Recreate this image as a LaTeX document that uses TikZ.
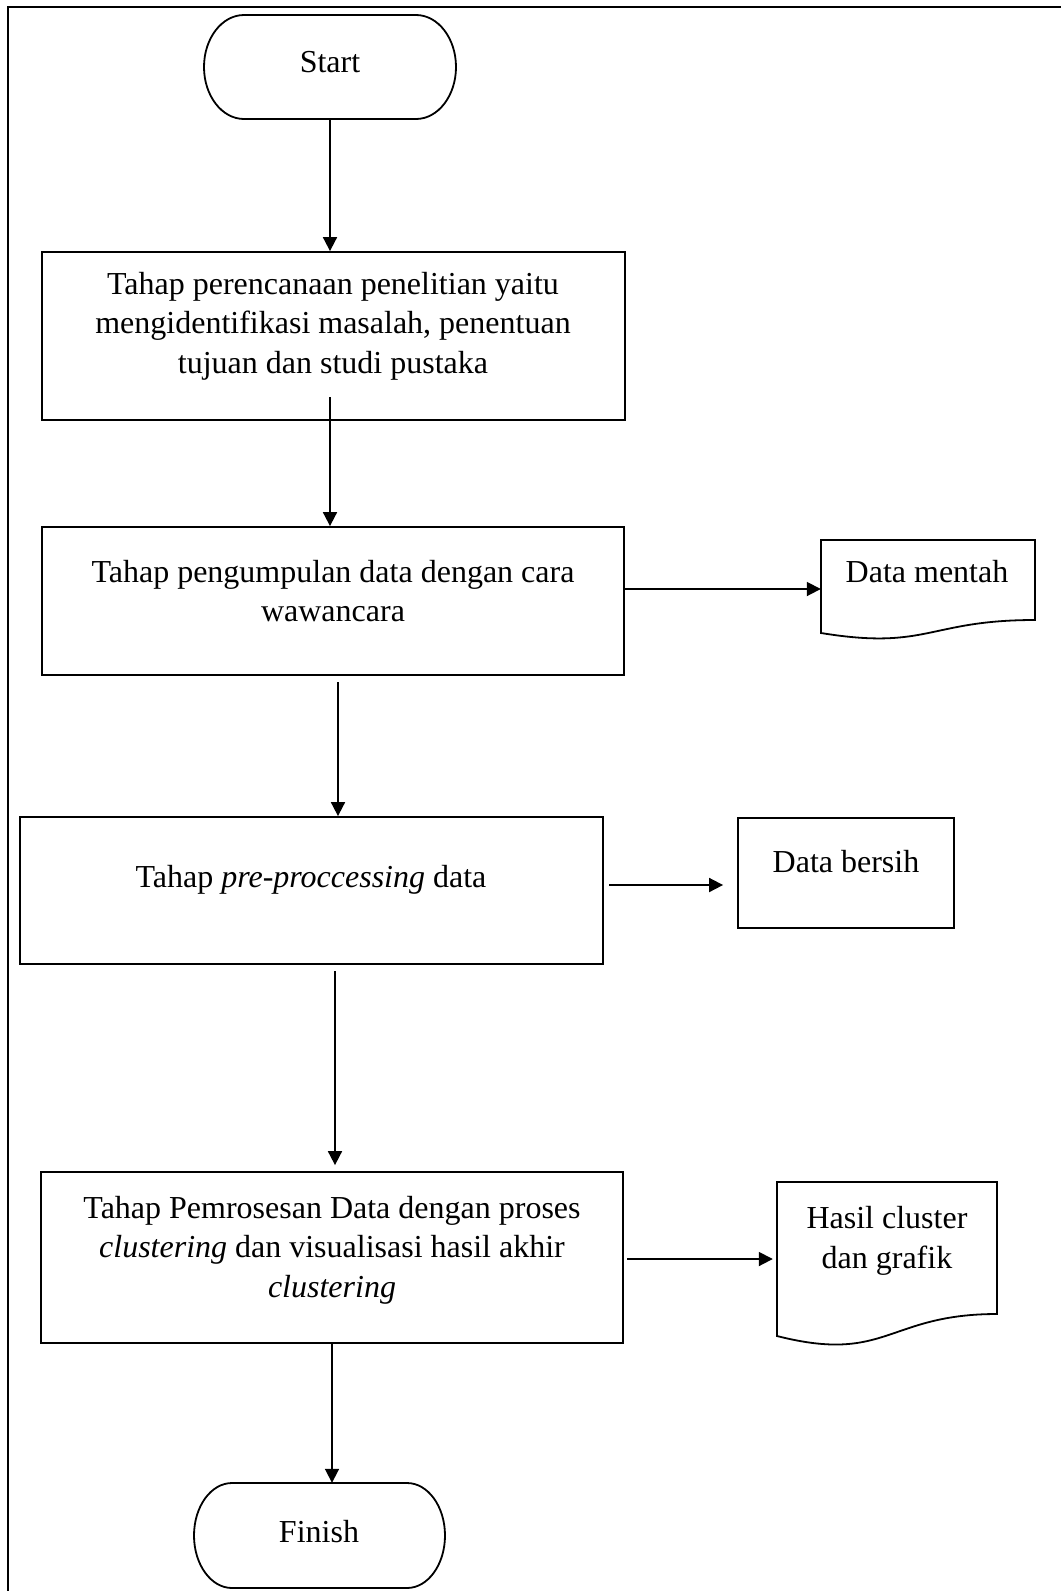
\documentclass[tikz,border=0pt]{standalone}
\usepackage{fontspec}
\setmainfont{Liberation Serif}
\usetikzlibrary{arrows.meta,calc}
\begin{document}
\begin{tikzpicture}[x=1pt,y=-1pt,
  box/.style={draw, line width=1.8pt, inner sep=0pt},
  ghost/.style={inner sep=0pt},
  txt/.style={align=center, inner sep=0pt, font=\fontsize{32}{39.5}\selectfont},
  shp/.style={line width=1.8pt},
  arr/.style={line width=1.8pt, -{Triangle[length=14pt,width=14pt]}}]
\useasboundingbox (0,0) rectangle (1061,1591);
% page frame (top and left only)
\draw[line width=1.5pt] (8,1591) -- (8,7) -- (1061,7);

% Start terminator
\node[ghost, minimum width=252pt, minimum height=104pt] (start) at (330,67) {};
\draw[shp] (244,15) -- (416,15) .. controls (438.1,15) and (456,38.3) .. (456,67)
  .. controls (456,95.7) and (438.1,119) .. (416,119) -- (244,119)
  .. controls (221.9,119) and (204,95.7) .. (204,67)
  .. controls (204,38.3) and (221.9,15) .. (244,15) -- cycle;
\node[txt] (tstart) at (330,62) {Start};

% process boxes
\node[box, minimum width=583pt, minimum height=168pt] (b1) at (333.5,336) {};
\node[txt] (t1) at (333,326) {Tahap perencanaan penelitian yaitu\\mengidentifikasi masalah, penentuan\\tujuan dan studi pustaka};

\node[box, minimum width=582pt, minimum height=148pt] (b2) at (333,601) {};
\node[txt] (t2) at (333,591) {Tahap pengumpulan data dengan cara\\wawancara};

\node[box, minimum width=583pt, minimum height=147pt] (b3) at (311.5,890.5) {};
\node[txt] (t3) at (311,880) {Tahap \textit{pre-proccessing} data};

\node[box, minimum width=582pt, minimum height=171pt] (b4) at (332,1257.5) {};
\node[txt] (t4) at (332,1250) {Tahap Pemrosesan Data dengan proses\\\textit{clustering} dan visualisasi hasil akhir\\\textit{clustering}};

% outputs
\node[ghost, minimum width=214pt, minimum height=80pt] (dm) at (928,580) {};
\draw[shp] (821,540) -- (1035,540) -- (1035,620) .. controls (928,620) and (928,650.5) .. (821,633) -- cycle;
\node[txt] (tdm) at (927,572) {Data mentah};

\node[box, minimum width=216pt, minimum height=110pt] (db) at (846,873) {};
\node[txt] (tdb) at (846,862) {Data bersih};

\node[ghost, minimum width=220pt, minimum height=132pt] (hc) at (887,1248) {};
\draw[shp] (777,1182) -- (997,1182) -- (997,1314) .. controls (887,1314) and (887,1364) .. (777,1336) -- cycle;
\node[txt] (thc) at (887,1241) {Hasil cluster\\dan grafik};

% Finish terminator
\node[ghost, minimum width=251pt, minimum height=105pt] (finish) at (319.5,1535.5) {};
\draw[shp] (232,1483) -- (407,1483) .. controls (428,1483) and (445,1506.5) .. (445,1535.5)
  .. controls (445,1564.5) and (428,1588) .. (407,1588) -- (232,1588)
  .. controls (211,1588) and (194,1564.5) .. (194,1535.5)
  .. controls (194,1506.5) and (211,1483) .. (232,1483) -- cycle;
\node[txt] (tfinish) at (319,1532) {Finish};

% connectors
\draw[arr] (start.south) -- (start.south |- b1.north);
\coordinate (c1) at (330,397);
\draw[arr] (c1) -- (c1 |- b2.north);
\coordinate (c2) at (338,682);
\draw[arr] (c2) -- (c2 |- b3.north);
\coordinate (c3) at (335,971);
\draw[arr] (c3) -- ($(c3 |- b4.north)+(0,-6)$);
\coordinate (c4) at (332,1344);
\draw[arr] (c4) -- (c4 |- finish.north);
\coordinate (h1) at (624,589);
\draw[arr] (h1) -- (h1 -| dm.west);
\coordinate (h2) at (609,885);
\draw[arr] (h2) -- ($(h2 -| db.west)+(-14,0)$);
\coordinate (h3) at (627,1259);
\draw[arr] (h3) -- ($(h3 -| hc.west)+(-4,0)$);
\end{tikzpicture}
\end{document}
